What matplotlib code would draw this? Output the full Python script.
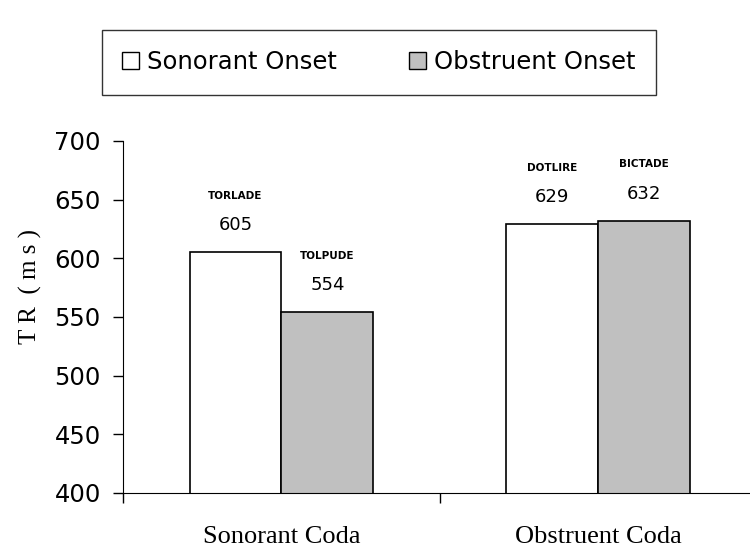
import numpy as np
import matplotlib
matplotlib.use("Agg")
from matplotlib import pyplot as plt
from matplotlib.patches import Patch

categories = ["Sonorant Coda", "Obstruent Coda"]
series_names = ["Sonorant Onset", "Obstruent Onset"]
sonorant_onset = [605, 629]
obstruent_onset = [554, 632]
sonorant_words = ["TORLADE", "DOTLIRE"]
obstruent_words = ["TOLPUDE", "BICTADE"]
y_ticks = [400, 450, 500, 550, 600, 650, 700]

fig = plt.figure(figsize=(7.5, 5.57), dpi=100)
ax = fig.add_axes([0.164, 0.115, 0.845, 0.632])

x = np.arange(len(categories))
w = 0.29
b1 = ax.bar(x - w / 2, sonorant_onset, w, color="white", edgecolor="black", linewidth=1.2)
b2 = ax.bar(x + w / 2, obstruent_onset, w, color="#c0c0c0", edgecolor="black", linewidth=1.2)

for bars, vals, words in [(b1, sonorant_onset, sonorant_words), (b2, obstruent_onset, obstruent_words)]:
    for rect, v, wd in zip(bars, vals, words):
        cx = rect.get_x() + rect.get_width() / 2
        ax.annotate(str(v), (cx, v), xytext=(0, 13), textcoords="offset points",
                    ha="center", va="bottom", fontsize=13, family="DejaVu Sans")
        ax.annotate(wd, (cx, v), xytext=(0, 37), textcoords="offset points",
                    ha="center", va="bottom", fontsize=7.5, family="DejaVu Sans",
                    fontweight="bold")

ax.set_ylim(400, 700)
ax.set_xlim(-0.5, 1.5)
ax.set_yticks(y_ticks)
ax.set_yticklabels([str(t) for t in y_ticks], fontsize=17.5, family="DejaVu Sans")
ax.set_xticks([-0.5, 0.5, 1.5])
ax.set_xticklabels([])
ax.tick_params(axis="y", direction="out", length=7, width=1, pad=9)
ax.tick_params(axis="x", direction="out", length=7, width=1)
for i, c in enumerate(categories):
    ax.text(i, -0.125, c, transform=ax.get_xaxis_transform(), ha="center", va="center",
            fontsize=19, family="Liberation Serif")

ax.spines["top"].set_visible(False)
ax.spines["right"].set_visible(False)
ax.spines["left"].set_bounds(400, 700)

fig.text(0.04, 0.485, "T R  ( m s )", rotation=90, ha="center", va="center",
         fontsize=18, family="Liberation Serif")

handles = [Patch(facecolor="white", edgecolor="black"),
           Patch(facecolor="#c0c0c0", edgecolor="black")]
leg = fig.legend(handles, series_names, loc="center", bbox_to_anchor=(0.505, 0.888),
                 ncol=2, frameon=True, fancybox=False, edgecolor="black",
                 prop={"family": "DejaVu Sans", "size": 17.5},
                 handlelength=0.7, handleheight=0.7, handletextpad=0.3,
                 columnspacing=3.0, borderpad=0.85, borderaxespad=0)
leg.get_frame().set_linewidth(1.0)

fig.savefig("out.png", dpi=100)
